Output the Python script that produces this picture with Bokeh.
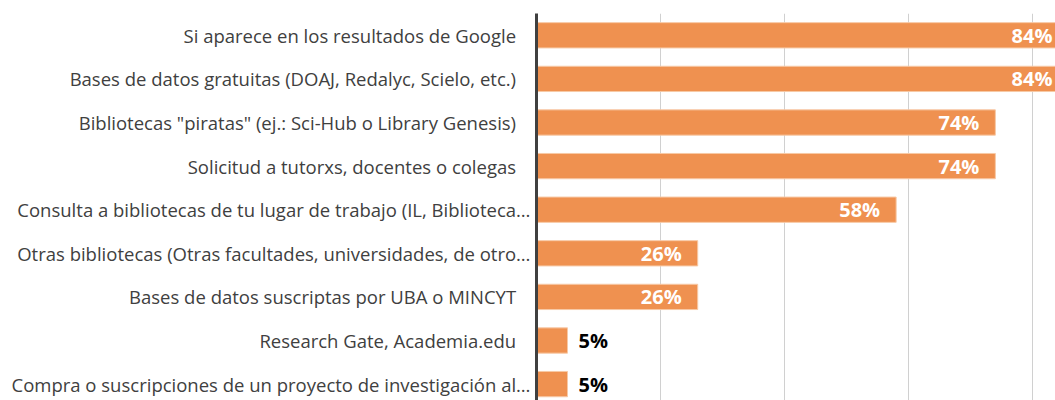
from bokeh.plotting import figure
from bokeh.models import ColumnDataSource, Range1d, FixedTicker
from bokeh.core.properties import value
from bokeh.embed import file_html
from bokeh.resources import INLINE

categories = [
    "Si aparece en los resultados de Google\u00a0\u00a0\u00a0",
    "Bases de datos gratuitas (DOAJ, Redalyc, Scielo, etc.)\u00a0\u00a0\u00a0",
    "Bibliotecas \"piratas\" (ej.: Sci-Hub o Library Genesis)\u00a0\u00a0\u00a0",
    "Solicitud a tutorxs, docentes o colegas\u00a0\u00a0\u00a0",
    "Consulta a bibliotecas de tu lugar de trabajo (IL, Biblioteca…",
    "Otras bibliotecas (Otras facultades, universidades, de otro…",
    "Bases de datos suscriptas por UBA o MINCYT\u00a0\u00a0\u00a0",
    "Research Gate, Academia.edu\u00a0\u00a0\u00a0",
    "Compra o suscripciones de un proyecto de investigación al…",
]
values = [84, 84, 74, 74, 58, 26, 26, 5, 5]
labels = ["84%", "84%", "74%", "74%", "58%", "26%", "26%", "5%", "5%"]

XMAX = 83.7
rows = list(range(len(values)))
inside = [v >= 20 for v in values]

bar_src = ColumnDataSource(dict(y=rows, right=values))

in_src = ColumnDataSource(dict(
    x=[min(v, XMAX) for v, i in zip(values, inside) if i],
    y=[r for r, i in zip(rows, inside) if i],
    t=[l for l, i in zip(labels, inside) if i],
    off=[-3 if v > XMAX else -16 for v, i in zip(values, inside) if i],
))
out_src = ColumnDataSource(dict(
    x=[v for v, i in zip(values, inside) if not i],
    y=[r for r, i in zip(rows, inside) if not i],
    t=[l for l, i in zip(labels, inside) if not i],
))

FONT = "Open Sans"

p = figure(width=1055, height=400, output_backend="svg", toolbar_location=None,
           x_range=Range1d(0, XMAX), y_range=Range1d(8.376, -0.5),
           min_border_left=536, min_border_right=0, min_border_top=13,
           min_border_bottom=0)
p.outline_line_color = None
p.background_fill_color = "white"
p.border_fill_color = "white"

p.hbar(y="y", left=0, right="right", height=0.58, source=bar_src,
       fill_color="#EF9150", line_color="#F7C9A6", line_width=1)

p.text(x="x", y="y", text="t", source=in_src, x_offset="off",
       text_align="right", text_baseline="middle", text_color="white",
       text_font=value(FONT), text_font_style="bold", text_font_size="20px")
p.text(x="x", y="y", text="t", source=out_src, x_offset=11,
       text_align="left", text_baseline="middle", text_color="black",
       text_font=value(FONT), text_font_style="bold", text_font_size="20px")

p.xaxis.visible = False
p.xgrid.ticker = FixedTicker(ticks=[20, 40, 60, 80])
p.xgrid.grid_line_color = "#D0D0D0"
p.xgrid.grid_line_width = 1
p.ygrid.grid_line_color = None

yax = p.yaxis[0]
yax.ticker = FixedTicker(ticks=rows)
yax.major_label_overrides = {i: c for i, c in enumerate(categories)}
yax.axis_line_color = "#404040"
yax.axis_line_width = 3
yax.major_tick_line_color = None
yax.minor_tick_line_color = None
yax.major_label_standoff = 0
yax.major_label_text_font = FONT
yax.major_label_text_font_size = "18.5px"
yax.major_label_text_color = "#404040"

open("out.html", "w").write(file_html(p, INLINE))
